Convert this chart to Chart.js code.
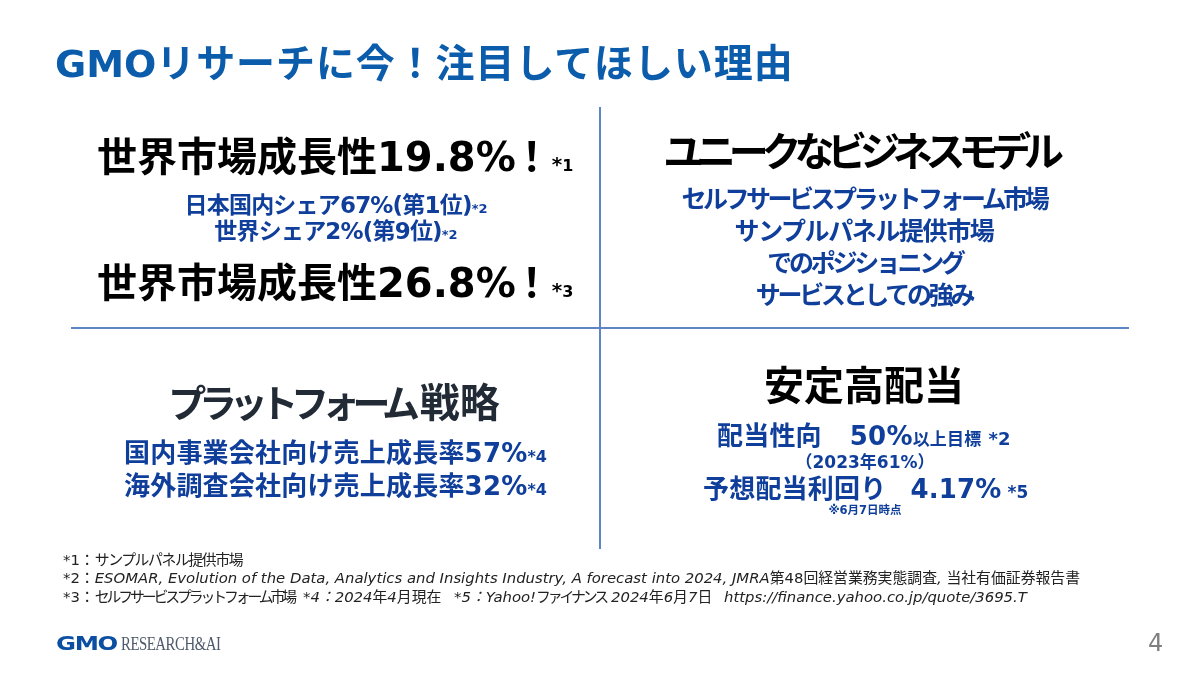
<!DOCTYPE html>
<html lang="ja">
<head>
<meta charset="utf-8">
<title>GMOリサーチに今！注目してほしい理由</title>
<script src="https://cdn.jsdelivr.net/npm/chart.js@4"></script>
<style>
html, body { margin: 0; padding: 0; background: #fff; }
#slide { position: relative; width: 1200px; height: 675px; overflow: hidden; font-family: "DejaVu Sans", "Noto Sans CJK JP", sans-serif; }
#canvas { position: absolute; left: 0; top: 0; }
.t { position: absolute; white-space: nowrap; line-height: 1; font-weight: bold; transform: translateY(-50%); }
.c { transform: translate(-50%, -50%); }
.head { font-size: 40px; color: #000; }
.bang { margin-left: -4px; }
.sup { font-size: 20px; letter-spacing: 0; margin-left: 0; }
.sup span { font-size: 16px; }
.kana { letter-spacing: -7.2px; }
.blue { color: #0f3e9b; }
.big { font-size: 26px; letter-spacing: .2px; }
.mid { font-size: 25px; letter-spacing: -3.3px; }
.share { font-size: 23px; letter-spacing: -.8px; }
small { font-size: 16px; letter-spacing: 0; }
.note { font-weight: normal; font-size: 14.85px; color: #222; }
.note i { font-style: italic; }
.nar { letter-spacing: -3.1px; }
</style>
</head>
<body>
<div id="slide">
  <canvas id="canvas" width="1200" height="675"></canvas>

  <div class="t" style="left:55px;top:63px;font-size:38px;color:#0b5cab">GMO<span style="font-size:39px;letter-spacing:.9px">リサーチに今！注目してほしい理由</span></div>

  <div class="t head" style="left:97px;top:157px">世界市場成長性19.8%<span class="bang">！</span><span class="sup">*<span>1</span></span></div>
  <div class="t c share blue" style="left:336px;top:205px">日本国内シェア67%(第1位)<small style="font-size:13px">*2</small></div>
  <div class="t c share blue" style="left:336px;top:231px">世界シェア2%(第9位)<small style="font-size:13px">*2</small></div>
  <div class="t head" style="left:97px;top:283px">世界市場成長性26.8%<span class="bang">！</span><span class="sup">*<span>3</span></span></div>

  <div class="t c head kana" style="left:860px;top:152px">ユニークなビジネスモデル</div>
  <div class="t c mid blue" style="left:864px;top:199px;letter-spacing:-3.5px">セルフサービスプラットフォーム市場</div>
  <div class="t c mid blue" style="left:864px;top:231px;letter-spacing:-1.4px">サンプルパネル提供市場</div>
  <div class="t c mid blue" style="left:865px;top:263px">でのポジショニング</div>
  <div class="t c mid blue" style="left:864px;top:295px">サービスとしての強み</div>

  <div class="t c" style="left:334px;top:403px;font-size:38px;color:#222b35;letter-spacing:-7.3px">プラットフォーム<span style="font-size:40px;letter-spacing:0;margin-left:7px">戦略</span></div>
  <div class="t big blue" style="left:124px;top:453px">国内事業会社向け売上成長率57%<small>*4</small></div>
  <div class="t big blue" style="left:124px;top:486px">海外調査会社向け売上成長率32%<small>*4</small></div>

  <div class="t c head" style="left:864px;top:386px">安定高配当</div>
  <div class="t big blue" style="left:717px;top:436px">配当性向<span style="margin-left:28px">50%</span><span style="font-size:17px">以上目標</span><span style="font-size:18px;margin-left:7px">*2</span></div>
  <div class="t c blue" style="left:865px;top:462px;font-size:17px">（2023年61%）</div>
  <div class="t big blue" style="left:703px;top:489px">予想配当利回り<span style="margin-left:24px">4.17%</span><small style="font-size:17px;margin-left:6px">*5</small></div>
  <div class="t c blue" style="left:865px;top:511px;font-size:11.5px">※6月7日時点</div>

  <div class="t note" style="left:63px;top:560px">*1：<span style="letter-spacing:-1.4px">サンプルパネル提供市場</span></div>
  <div class="t note" style="left:63px;top:578px">*2：<i>ESOMAR, Evolution of the Data, Analytics and Insights Industry, A forecast into 2024, JMRA</i>第48回経営業務実態調査<i>,</i> 当社有価証券報告書</div>
  <div class="t note" style="left:63px;top:597px">*3：<span class="nar">セルフサービスプラットフォーム市場</span></div>
  <div class="t note" style="left:303px;top:597px"><i>*4：2024</i>年<i>4</i>月現在</div>
  <div class="t note" style="left:454px;top:597px"><i>*5：Yahoo!</i><span class="nar">ファイナンス</span></div>
  <div class="t note" style="left:611px;top:597px"><i>2024</i>年<i>6</i>月<i>7</i>日</div>
  <div class="t note" style="left:724px;top:597px"><i>https://finance.yahoo.co.jp/quote/3695.T</i></div>

  <div class="t" style="left:56px;top:643px;font-size:19px;color:#0b4ea2;letter-spacing:-1px;transform:translateY(-50%) scaleX(1.28);transform-origin:left">GMO</div>
  <div class="t" style="left:121px;top:643px;font-size:19px;color:#4d5a6b;font-weight:normal;font-family:'Liberation Serif',serif;letter-spacing:-.6px;transform:translateY(-50%) scaleX(.78);transform-origin:left">RESEARCH&amp;AI</div>
  <div class="t" style="left:1148px;top:643px;font-size:24px;color:#7f7f7f;font-weight:normal">4</div>
</div>

<script>
// the cross that splits the slide into four panels
var verticalX = [600, 600];
var verticalY = [107, 549];
var horizontalX = [71, 1129];
var horizontalY = [328, 328];

function toPoints(xs, ys) {
    return xs.map(function(x, i) {
	return { x: x, y: ys[i] };
    });
}

function renderSlide() {
    var ctx = document.getElementById("canvas").getContext("2d");

    var lineStyle = {
	borderColor: '#5d86c0',
	borderWidth: 2,
	pointRadius: 0,
	showLine: true,
	fill: false
    };

    new Chart(ctx, {
	type: 'scatter',
	data: {
	    datasets: [
		Object.assign({ label: 'vertical', data: toPoints(verticalX, verticalY) }, lineStyle),
		Object.assign({ label: 'horizontal', data: toPoints(horizontalX, horizontalY) }, lineStyle)
	    ]
	},
	options: {
	    responsive: false,
	    animation: false,
	    layout: { padding: 0 },
	    plugins: { legend: { display: false }, tooltip: { enabled: false } },
	    scales: {
		x: { display: false, min: 0, max: 1200 },
		y: { display: false, min: 0, max: 675, reverse: true }
	    }
	}
    });
}

renderSlide();
</script>
</body>
</html>
